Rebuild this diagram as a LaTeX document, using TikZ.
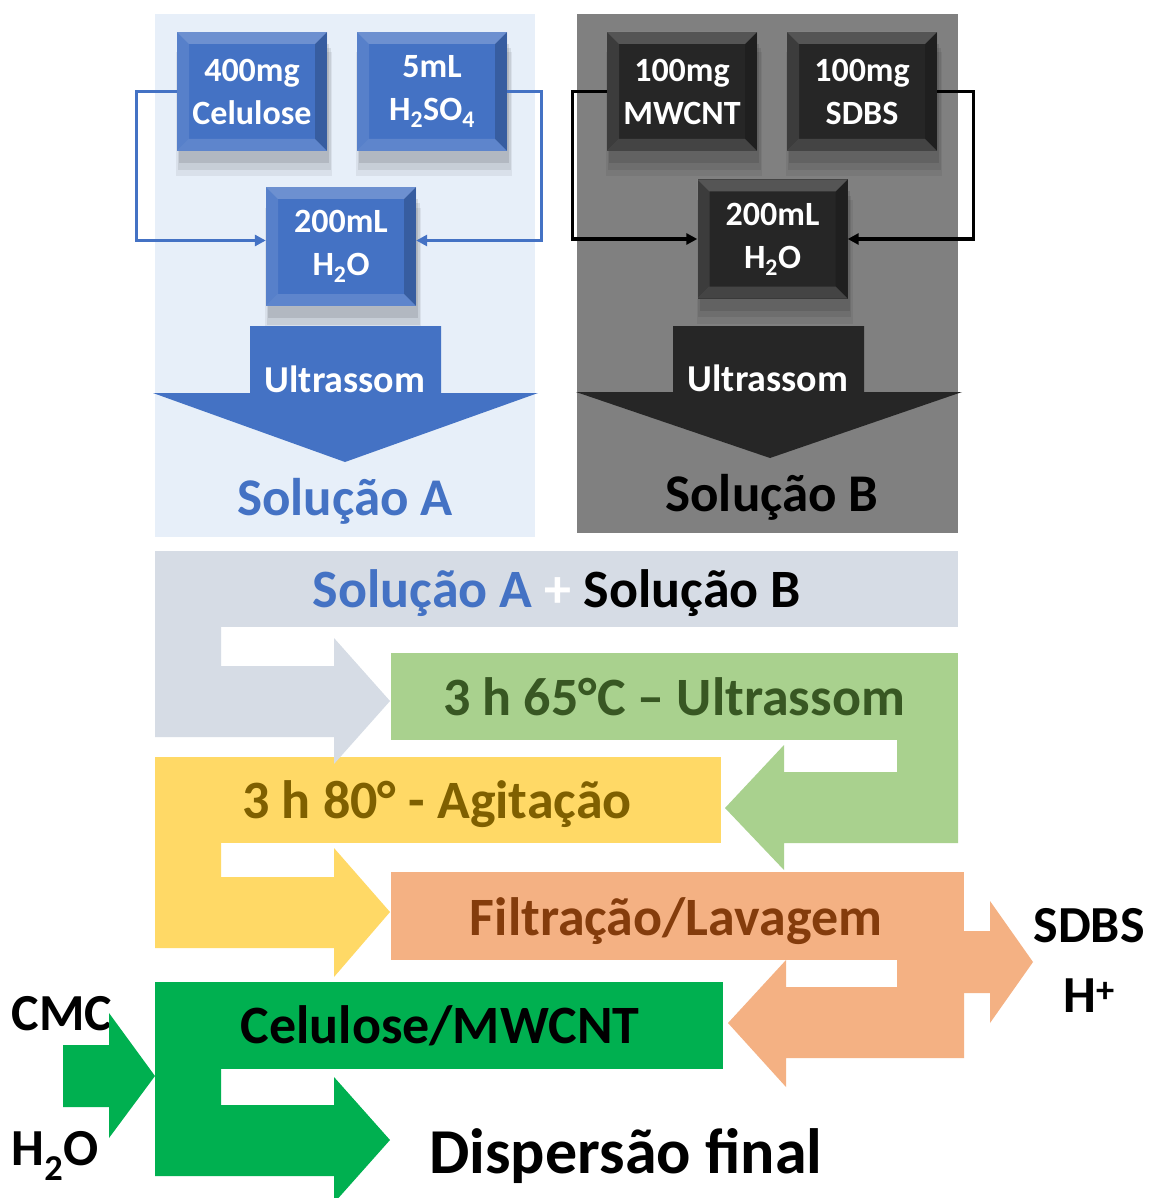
\documentclass[tikz,border=0pt]{standalone}
\usepackage{fontspec}
\setmainfont{Carlito}
\usetikzlibrary{arrows.meta,shadows}
\definecolor{cblue}{HTML}{4472C4}
\definecolor{cpanelA}{HTML}{E7EFF9}
\definecolor{cpanelB}{HTML}{808080}
\definecolor{cdark}{HTML}{262626}
\definecolor{cband}{HTML}{D6DCE5}
\definecolor{clgreen}{HTML}{A9D18E}
\definecolor{clgreentext}{HTML}{385723}
\definecolor{cyellow}{HTML}{FFD966}
\definecolor{cyellowtext}{HTML}{7F6000}
\definecolor{corange}{HTML}{F4B183}
\definecolor{corangetext}{HTML}{843C0C}
\definecolor{cgreen}{HTML}{00B050}
\begin{document}
\begin{tikzpicture}[x=1pt,y=-1pt,
  bevel/.style={path picture={
    \fill[white,opacity=.22] (path picture bounding box.north west) -- (path picture bounding box.north east) -- ([xshift=-12pt,yshift=-12pt]path picture bounding box.north east) -- ([xshift=12pt,yshift=-12pt]path picture bounding box.north west) -- cycle;
    \fill[white,opacity=.10] (path picture bounding box.north west) -- ([xshift=12pt,yshift=-12pt]path picture bounding box.north west) -- ([xshift=12pt,yshift=12pt]path picture bounding box.south west) -- (path picture bounding box.south west) -- cycle;
    \fill[black,opacity=.18] (path picture bounding box.north east) -- ([xshift=-12pt,yshift=-12pt]path picture bounding box.north east) -- ([xshift=-12pt,yshift=12pt]path picture bounding box.south east) -- (path picture bounding box.south east) -- cycle;
    \fill[white,opacity=.14] (path picture bounding box.south west) -- ([xshift=12pt,yshift=12pt]path picture bounding box.south west) -- ([xshift=-12pt,yshift=12pt]path picture bounding box.south east) -- (path picture bounding box.south east) -- cycle;
  }},
  softshadow/.style={
    drop shadow={shadow xshift=2pt,shadow yshift=-22pt,opacity=.06,shadow scale=1.04,fill=black},
    drop shadow={shadow xshift=2pt,shadow yshift=-17pt,opacity=.08,shadow scale=1.02,fill=black},
    drop shadow={shadow xshift=2pt,shadow yshift=-12pt,opacity=.10,shadow scale=1.0,fill=black}},
  inbox/.style={minimum width=150pt, minimum height=119pt, inner sep=0pt, fill=#1, text=white,
    align=center, font=\fontsize{34}{43}\selectfont\bfseries, softshadow, bevel},
  connA/.style={cblue, line width=3.2pt, -{Triangle[length=11pt,width=11pt]}},
  connB/.style={black, line width=3.2pt, -{Triangle[length=11pt,width=11pt]}},
  ultra/.style={anchor=base, text=white, font=\fontsize{38}{44}\selectfont\bfseries},
  soltitle/.style={anchor=base, font=\fontsize{53}{60}\selectfont\bfseries},
  steptext/.style={anchor=base, font=\fontsize{54}{60}\selectfont\bfseries},
  sidetext/.style={anchor=base, font=\fontsize{52}{60}\selectfont\bfseries}
]
\useasboundingbox (0,0) rectangle (1150,1198);
\clip (0,0) rectangle (1150,1198);
\fill[white] (0,0) rectangle (1150,1198);

% ---------- panel A ----------
\fill[cpanelA] (155,14) rectangle (535,537);
\node[inbox=cblue] (cel) at (252,91.5) {400mg\\Celulose};
\node[inbox=cblue] (acid) at (432,91.5) {5mL\\H\textsubscript{2}SO\textsubscript{4}};
\node[inbox=cblue] (wA) at (341,246.5) {200mL\\H\textsubscript{2}O};
\draw[connA] (cel.west) -- ++(-40,0) |- ([yshift=6pt]wA.west);
\draw[connA] (acid.east) -- ++(34,0) |- ([yshift=6pt]wA.east);
\fill[cblue] (250,326) -- (441,326) -- (441,393) -- (538,393) -- (345,462) -- (153,393) -- (250,393) -- cycle;
\node[ultra] (uA) at (345,392) {Ultrassom};
\node[soltitle, text=cblue] (solA) at (345,515) {Solução A};

% ---------- panel B ----------
\fill[cpanelB] (577,14) rectangle (958,533);
\node[inbox=cdark] (mw) at (682,91.5) {100mg\\MWCNT};
\node[inbox=cdark] (sdbs) at (862,91.5) {100mg\\SDBS};
\node[inbox=cdark] (wB) at (772.5,239) {200mL\\H\textsubscript{2}O};
\draw[connB] (mw.west) -- ++(-34,0) |- (wB.west);
\draw[connB] (sdbs.east) -- ++(36,0) |- (wB.east);
\fill[cdark] (673,326) -- (864,326) -- (864,392) -- (962,392) -- (770,458) -- (576,392) -- (673,392) -- cycle;
\node[ultra] (uB) at (768,391) {Ultrassom};
\node[soltitle, text=black] (solB) at (772,511) {Solução B};

% ---------- process flow ----------
% dark green
\fill[cgreen] (155,982) rectangle (723,1069);
\fill[cgreen] (155,1069) -- (221,1069) -- (221,1105) -- (334,1105) -- (334,1077) -- (390,1140) -- (334,1203) -- (334,1176) -- (155,1176) -- cycle;
% orange
\fill[corange] (391,872) rectangle (964,960);
\fill[corange] (964,931) -- (990,931) -- (990,901) -- (1033,962) -- (990,1023) -- (990,993) -- (964,993) -- cycle;
\fill[corange] (897,960) -- (964,960) -- (964,1058) -- (786,1058) -- (786,1087) -- (728,1023) -- (786,960) -- (786,987) -- (897,987) -- cycle;
% yellow
\fill[cyellow] (155,757) rectangle (721,843);
\fill[cyellow] (155,843) -- (221,843) -- (221,877) -- (334,877) -- (334,848) -- (390,912) -- (334,977) -- (334,948) -- (155,948) -- cycle;
% light green
\fill[clgreen] (391,653) rectangle (958,740);
\fill[clgreen] (897,740) -- (958,740) -- (958,843) -- (784,843) -- (784,870) -- (725,808) -- (784,745) -- (784,772) -- (897,772) -- cycle;
% gray band
\fill[cband] (155,551) rectangle (958,627);
\fill[cband] (155,627) -- (221,627) -- (221,666) -- (334,666) -- (334,638) -- (390,701) -- (334,764) -- (334,737) -- (155,737) -- cycle;

\node[steptext] (mix) at (557,607) {\textcolor{cblue}{Solução A} \textcolor{white}{+} Solução B};
\node[steptext, text=clgreentext] (s1) at (674,715) {3 h 65°C – Ultrassom};
\node[steptext, text=cyellowtext] (s2) at (437,818) {3 h 80° - Agitação};
\node[steptext, text=corangetext] (s3) at (676,935) {Filtração/Lavagem};
\node[steptext, text=black] (s4) at (440,1043) {Celulose/MWCNT};
\node[anchor=base, font=\fontsize{64}{70}\selectfont\bfseries] (fin) at (626,1173) {Dispersão final};

\node[sidetext] (cmc) at (62,1030) {CMC};
\node[sidetext] (wat) at (55,1165) {H\textsubscript{2}O};
\fill[cgreen] (63,1045) -- (109,1045) -- (109,1013) -- (155,1076) -- (109,1138) -- (109,1107) -- (63,1107) -- cycle;
\node[sidetext] (sd) at (1089,942) {SDBS};
\node[sidetext] (hp) at (1089,1012) {H\textsuperscript{+}};
\end{tikzpicture}
\end{document}
